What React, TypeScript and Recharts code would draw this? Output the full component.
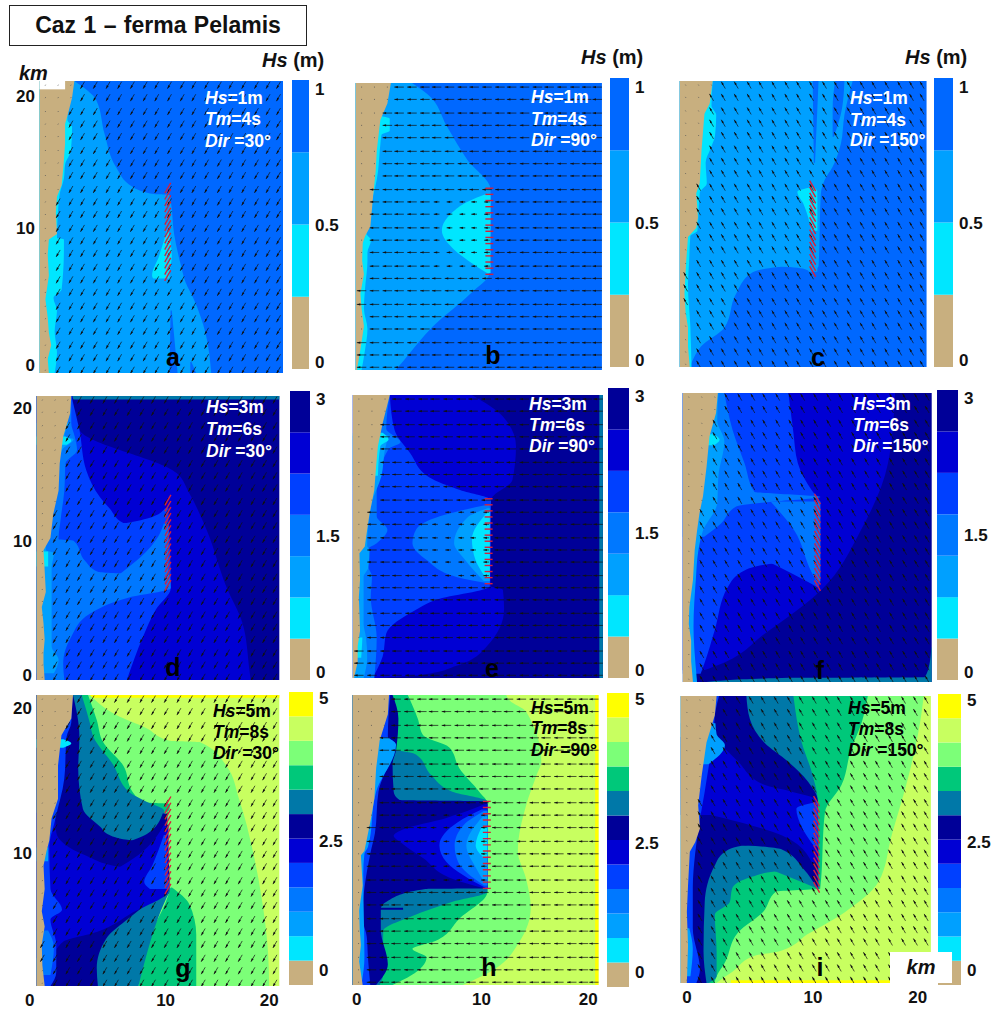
import React from 'react'
import { ComposedChart, BarChart, Area, Bar, Scatter, XAxis, YAxis } from 'recharts'

// [y km, from x km, to x km]
type Row = [number, number, number]
type Band = [number, Row[]]

const levelColors = [
  '#C8AF7F', '#00E6FF', '#00A0FF', '#0078FF', '#0040FF', '#0000D4', '#000098',
  '#0078A8', '#00C87A', '#7CFF78', '#C8FF60', '#FFFF00', '#0068FF', '#FFFFFF',
]

const arrowXs = [0.5, 1.6, 2.7, 3.7, 4.8, 5.9, 6.9, 8, 9.1, 10.1, 11.2, 12.3, 13.3, 14.4, 15.5, 16.5, 17.6, 18.7, 19.7, 20.6]
const arrowYs = [0.2, 1.1, 2, 3, 3.9, 4.8, 5.8, 6.7, 7.6, 8.6, 9.5, 10.4, 11.4, 12.3, 13.2, 14.2, 15.1, 16, 17, 17.9, 18.8, 19.8, 20.7]
const farmYs = [7, 7.45, 7.9, 8.35, 8.8, 9.25, 9.7, 10.15, 10.6, 11.05, 11.5, 11.95, 12.4, 12.85, 13.3]

const coastA = [[0, 0.8], [1, 0.7], [2, 1], [2.9, 0.8], [4, 0.7], [5.3, 0.5], [7, 0.8], [8.5, 0.7], [9.6, 0.8], [10, 1.5], [11.5, 1.4], [12.7, 1.5], [13.5, 1.9], [14.8, 2.05], [16.5, 2.2], [17.9, 2.2], [18.8, 2.5], [19.8, 2.8], [21, 3]]
const coastB = [[0, 0.1], [1.5, 0.4], [3.2, 0.7], [4.5, 0.5], [5.6, 0.4], [7, 0.7], [8, 0.55], [9.3, 0.6], [9.8, 0.8], [10.5, 1.25], [12.9, 1.5], [14.5, 1.7], [16.1, 1.8], [18.3, 2.1], [19.5, 2.7], [21, 3]]
const coastC = [[0, 0.85], [1.5, 0.7], [2.9, 0.7], [4, 0.5], [5.4, 0.4], [7.8, 0.55], [9.55, 0.7], [10.2, 1.4], [11, 1.55], [12.75, 1.4], [13.5, 1.7], [15.9, 1.85], [18.6, 2.1], [19.35, 2.55], [21, 2.8]]
const coastD = [[0, 0.7], [1.2, 0.6], [2, 0.6], [3, 0.7], [4.2, 0.6], [5.4, 0.45], [6.5, 0.8], [8.1, 0.7], [9.6, 0.6], [10.5, 1.2], [12.3, 1.45], [14, 1.9], [16, 2], [18, 2.3], [19.7, 2.9], [21, 3]]
const coastE = [[0, 0.1], [1.2, 0.4], [2.35, 0.4], [3.5, 0.6], [4.8, 0.55], [6, 0.5], [7.3, 0.6], [9.25, 0.55], [9.75, 1], [11, 1.2], [12.2, 1.4], [13.95, 1.8], [15.7, 1.95], [17.2, 2.1], [18.9, 2.5], [21, 3.1]]
const coastF = [[0, 0.85], [1.5, 0.7], [3, 0.7], [4.2, 0.5], [5.45, 0.55], [7.4, 0.85], [9.6, 1], [11, 1.2], [12.25, 1.4], [13.5, 1.7], [15.65, 2], [17.85, 2.25], [19.55, 2.8], [21, 2.95]]
const coastG = [[0, 0.7], [1.5, 0.5], [3, 0.45], [4.3, 0.7], [5.4, 0.45], [7, 0.7], [8.7, 0.6], [9.7, 0.85], [10.5, 1.1], [12.1, 1.3], [13.5, 1.85], [15.9, 1.85], [18.1, 2.15], [19.3, 3], [21, 3.15]]
const coastH = [[0, 0.85], [1.7, 0.55], [2.9, 0.7], [4, 0.6], [5.4, 0.55], [7.2, 0.85], [9.4, 0.7], [9.7, 1], [12, 1.55], [13.5, 1.85], [15.7, 2], [17.7, 2.3], [19.6, 3], [21, 3.1]]
const coastI = [[0, 0.5], [2.75, 0.6], [5.2, 0.5], [7.15, 0.6], [9.6, 0.75], [10.3, 1.2], [11.3, 1.6], [13, 1.45], [15.2, 1.75], [17.6, 2.15], [19.6, 2.85], [21, 3]]

const bandsA: Band[] = [
  [2, [[0, 0, 21], [21, 0, 21]]],
  [12, [[0, 14.8, 21], [2.9, 14.3, 21], [5.3, 13.3, 21], [6.5, 12.6, 21], [7.7, 12.2, 21], [10, 11.6, 21], [12.4, 11.3, 21], [12.8, 11.2, 21], [12.85, 10, 21], [13.4, 8, 21], [14.8, 6.6, 21], [17.2, 5.6, 21], [19.6, 4.9, 21], [21, 3, 21]]],
  [12, [[0, 11.2, 11.9], [4.5, 11.3, 11.4]]],
  [12, [[0, 13, 13.5], [0.8, 13, 13.1]]],
  [1, [[6.8, 9.8, 11.2], [7, 9.7, 11.2], [8.4, 10.3, 11.4], [10.3, 11, 11.1]]],
  [1, [[0, 0, 1.3], [1.5, 0, 1.5], [3, 0, 1.3], [4.5, 0, 1.5], [5.4, 0, 1.2], [6, 0, 1.9], [9, 0, 2.1], [9.6, 0, 2.1], [9.7, 0, 1.5], [12.7, 0, 1.7], [14, 0, 2.1], [15, 0, 2.2], [16, 0, 2.7], [17.7, 0, 2.8], [18.2, 0, 2.4], [21, 0, 2.4]]],
  [13, [[20.4, 0, 2.2], [21, 0, 2.2]]],
]

const bandsB: Band[] = [
  [12, [[0, 0, 21], [21, 0, 21]]],
  [2, [[0, 0, 3.4], [0.7, 0, 4.1], [3.2, 0, 6.6], [5.6, 0, 9.8], [7.1, 0, 11.4], [13.2, 0, 11.5], [15.4, 0, 9.5], [17.8, 0, 7.8], [20.2, 0, 6.1], [21, 0, 4.8]]],
  [1, [[7.1, 11.2, 11.5], [8, 9.6, 11.5], [8.8, 8.4, 11.5], [10.2, 7.35, 11.5], [11.5, 8.2, 11.5], [12.3, 9.5, 11.5], [12.9, 11.2, 11.5]]],
  [1, [[0, 0, 0.5], [1.5, 0, 0.8], [3, 0, 1], [4.5, 0, 0.7], [6, 0, 0.8], [8, 0, 1], [8.6, 0, 1], [9.5, 0, 1.3], [10, 0, 0.9], [14.5, 0, 1.9], [16.5, 0, 2.1], [17.2, 0, 2.2], [17.5, 0, 2.9], [18.4, 0, 2.9], [18.6, 0, 2.2], [21, 0, 2.9]]],
]

const bandsC: Band[] = [
  [12, [[0, 0, 21], [21, 0, 21]]],
  [2, [[0, 0, 0.85], [0.5, 0, 1.1], [1.5, 0, 1.8], [2.9, 0, 3.8], [5.4, 0, 4.8], [6.9, 0, 6.1], [7.35, 0, 8.4], [7.4, 0, 11.8], [12.75, 0, 12], [13.7, 0, 12.3], [14.7, 0, 13], [16.4, 0, 13.7], [18.5, 0, 14], [21, 0, 14.7]]],
  [2, [[7, 11, 11.7], [7.2, 10.6, 11.7], [7.42, 8.3, 11.8]]],
  [12, [[15, 11.4, 11.5], [21, 11.3, 11.8]]],
  [12, [[16.9, 13, 13.1], [19, 13, 13.8], [21, 13.2, 14]]],
  [1, [[10, 11.2, 11.7], [12, 10.5, 11.7], [12.87, 10, 11.7], [13.2, 11.2, 11.4]]],
  [1, [[0, 0, 1], [3, 0, 0.9], [6, 0, 0.7], [7.8, 0, 0.8], [9.6, 0, 0.9], [10, 0, 1.5], [12.8, 0, 1.7], [13.5, 0, 2.3], [15, 0, 2.2], [16, 0, 2.6], [17, 0, 3], [18.5, 0, 3.1], [19.2, 0, 2.7], [21, 0, 2.8]]],
]

const bandsD: Band[] = [
  [6, [[0, 0, 21], [21, 0, 21]]],
  [7, [[20.75, 3.2, 21], [21, 3, 21]]],
  [5, [[0, 0, 18.5], [0.7, 0, 18.4], [4.2, 0, 17.8], [6.9, 0, 16.4], [11.1, 0, 14.7], [13.8, 0, 13.2], [15.3, 0, 12.1], [18.5, 0, 3.7], [21, 0, 3.1]]],
  [4, [[0, 0, 7.8], [3.2, 0, 9.2], [5.2, 0, 10.3], [6.8, 0, 11.6], [11.55, 0, 11.4], [11.6, 0, 7.5], [12.7, 0, 6.3], [13.5, 0, 5.5], [15.5, 0, 4.3], [18.5, 0, 3.7], [21, 0, 3]]],
  [4, [[11.53, 7.3, 11.4], [12, 9.8, 11.4], [12.7, 11.1, 11.4]]],
  [3, [[0, 0, 2.4], [1.2, 0, 2.3], [3.2, 0, 3], [4.9, 0, 4.6], [6.1, 0, 8], [6.8, 0, 11.6], [7.65, 0, 11.5], [8, 0, 5.3], [8.8, 0, 4.2], [10.3, 0, 3.2], [10.4, 0, 1.9], [12, 0, 2.1], [14, 0, 2.4], [16, 0, 2.5], [17, 0, 3.5], [18, 0, 3.3], [19, 0, 3], [21, 0, 3]]],
  [3, [[7.63, 6.9, 11.5], [8.05, 7.5, 11.4], [9.1, 9, 11.4], [10.6, 10.5, 11.4], [11.55, 11, 11.4]]],
  [2, [[0.5, 0, 1.5], [1.5, 0, 1.9], [2.5, 0, 1.3], [8.3, 0, 1.3], [9.4, 0, 1.5], [9.6, 0, 0.8], [17, 0, 2.2], [17.8, 0, 3.2], [18, 0, 2.4], [19, 0, 2.9]]],
  [1, [[17.4, 0, 2.6], [17.7, 0, 3], [18, 0, 2.5]]],
  [1, [[8.4, 0, 1], [9.5, 0, 1]]],
]

const bandsE: Band[] = [
  [6, [[0, 0, 21], [21, 0, 21]]],
  [7, [[0, 20.7, 21], [21, 20.7, 21]]],
  [5, [[0, 0, 2], [0.25, 0, 5.9], [0.9, 0, 8.7], [2.3, 0, 11.2], [5.1, 0, 12.7], [6.55, 0, 12.6], [6.8, 0, 11.6], [13.2, 0, 11.6], [14.7, 0, 13.4], [17.2, 0, 13.7], [19.4, 0, 12.6], [21, 0, 10]]],
  [4, [[0.1, 0, 1.7], [1.6, 0, 2.5], [3.3, 0, 2.8], [5.06, 0, 5.3], [5.8, 0, 7], [6.8, 0, 11.5], [13.2, 0, 11.6], [13.95, 0, 9], [14.9, 0, 6.4], [16.7, 0, 4.8], [18.4, 0, 3.5], [21, 0, 3.1]]],
  [3, [[7.05, 11.2, 11.5], [7.5, 8.7, 11.5], [8.75, 6.2, 11.5], [10, 5, 11.5], [11, 5.3, 11.5], [12, 7.3, 11.5], [12.85, 11.3, 11.5]]],
  [2, [[7.2, 11, 11.5], [8.8, 9.4, 11.5], [10, 8.5, 11.5], [11.9, 9.6, 11.5], [12.6, 11.3, 11.5]]],
  [1, [[7.4, 11.2, 11.5], [8.75, 10.3, 11.5], [10.3, 10, 11.5], [12.3, 11.3, 11.5]]],
  [3, [[0, 0, 1.8], [3, 0, 2], [6, 0, 1.5], [7.5, 0, 1.6], [8.5, 0, 1.2], [9.5, 0, 1.2], [10, 0, 2], [11, 0, 2.9], [12, 0, 2], [14, 0, 2], [17, 0, 3], [17.5, 0, 4], [18.5, 0, 2.8], [21, 0, 3.1]]],
  [2, [[0, 0, 0.9], [1.5, 0, 1.2], [3, 0, 1.1], [4, 0, 0.9], [7.5, 0, 0.9], [8.2, 0, 1.3], [9.5, 0, 1.4], [9.8, 0, 1.2], [13, 0, 1.6], [15, 0, 2.4], [17, 0, 2.7], [18, 0, 3]]],
  [1, [[1.5, 0, 0.7], [3, 0, 0.8]]],
  [1, [[15, 0, 2.1], [17.2, 0, 2.3], [17.7, 0, 3], [18.2, 0, 2.5]]],
]

const bandsF: Band[] = [
  [6, [[0, 0, 21], [21, 0, 21]]],
  [5, [[0.85, 0, 1.8], [1.3, 0, 3.2], [3.5, 0, 6.9], [6.7, 0, 11.7], [11, 0, 15], [15.9, 0, 17.3], [21, 0, 17.9]]],
  [4, [[0.6, 0, 1.5], [1.3, 0, 1.8], [3.8, 0, 2.7], [6.9, 0, 3.8], [8.1, 0, 5.2], [8.6, 0, 7.5], [8.65, 0, 11.5], [13.2, 0, 11.5], [13.9, 0, 10.9], [15.9, 0, 9.7], [18.3, 0, 9.3], [21, 0, 8.9]]],
  [4, [[6.9, 11.3, 11.5], [7.15, 10.8, 11.5], [8.67, 7.4, 11.5]]],
  [3, [[10.55, 0, 1.8], [11.5, 0, 3.2], [12.75, 0, 4.5], [13.1, 0, 7.5], [13.45, 0, 11.6], [13.7, 0, 7.7], [13.8, 0, 6.05], [15.9, 0, 5.2], [18.3, 0, 4.2], [21, 0, 3.5]]],
  [3, [[7.3, 11.3, 11.6], [7.9, 10.9, 11.6], [11, 9.4, 11.6], [13.12, 7.4, 11.6]]],
  [2, [[0, 0, 1.2], [1, 0, 1.1], [4, 0, 0.9], [7.5, 0, 1.1], [9.5, 0, 1.3], [11, 0, 1.7], [13, 0, 2.9], [15, 0, 3], [17.5, 0, 3.5], [19, 0, 2.9], [21, 0, 3]]],
  [1, [[17.2, 0, 2.6], [17.6, 0, 3.1], [18, 0, 2.6]]],
  [7, [[0, 2, 21], [0.3, 9, 21], [0.35, 20.4, 21], [1.3, 20.8, 21], [2.5, 20.95, 21]]],
]

const bandsG: Band[] = [
  [10, [[0, 0, 21], [21, 0, 21]]],
  [11, [[20.8, 3, 21], [21, 3, 21]]],
  [9, [[0, 0, 20.1], [2.5, 0, 20], [6.1, 0, 19.5], [9.7, 0, 18.7], [13.5, 0, 17.5], [15.9, 0, 16.4], [17.6, 0, 14.1], [17.7, 0, 11.5], [18.6, 0, 9.5], [19.55, 0, 6.9], [21, 0, 4.6]]],
  [8, [[12, 0, 5], [12.1, 0, 9.5], [12.8, 0, 11.5], [13.15, 0, 11.5], [13.25, 0, 9.5], [14, 0, 8.3], [15.9, 0, 7.5], [17.6, 0, 5.75], [19.2, 0, 5.2], [21, 0, 4.45]]],
  [8, [[0, 8.8, 13.8], [2.2, 9.2, 13.8], [3.7, 9.8, 13.8], [5.9, 11.1, 13.2], [7.1, 11.6, 11.7]]],
  [7, [[10.4, 0, 11.3], [12.7, 0, 11], [13.3, 0, 9.5], [14, 0, 8], [16, 0, 6.6], [18, 0, 4.9], [19, 0, 4.6], [21, 0, 3.9]]],
  [6, [[0, 0, 5.45], [1.3, 0, 5.35], [3.4, 0, 6.15], [4.9, 0, 8.15], [6.9, 0, 11.5], [10.45, 0, 11.3], [10.5, 0, 8.3], [10.9, 0, 6.3], [11.5, 0, 5.5], [12.8, 0, 4], [15.7, 0, 3.6], [18, 0, 3.7], [21, 0, 3.15]]],
  [6, [[10.43, 8, 11.3], [11, 9.6, 11.3], [12.45, 10.9, 11.3]]],
  [7, [[0, 5.3, 8.8], [1.3, 5.2, 9.2], [3.4, 6, 9.9], [4.9, 8, 10.5], [7.05, 11.5, 11.6]]],
  [5, [[2, 0, 1.4], [3.2, 0, 2.3], [3.9, 0, 5.2], [5.3, 0, 8.3], [6.9, 0, 11.4], [8.5, 0, 11.4], [8.6, 0, 7.2], [9.4, 0, 4.3], [11.1, 0, 1.7], [12.5, 0, 1.6]]],
  [5, [[8.48, 7, 11.4], [9.45, 8.8, 11.4], [11.6, 11, 11.4]]],
  [4, [[7, 9.8, 11.5], [7.5, 9.3, 11.4], [8.7, 10, 11.3], [10.9, 11, 11.2]]],
  [4, [[0, 0, 1.2], [1, 0, 1.7], [3, 0, 1.7], [4.8, 0, 1.2], [5.5, 0, 2.2], [7, 0, 1.2], [10, 0, 1.1], [12, 0, 1.6], [15, 0, 2.4], [18, 0, 2.6], [19, 0, 3], [21, 0, 3.1]]],
  [3, [[0.8, 0, 1.2], [2.8, 0, 1.5], [4, 0, 1]]],
  [2, [[9, 0, 1], [10, 0, 1]]],
  [1, [[17.2, 0, 2.3], [17.5, 0, 3], [17.8, 0, 2.3]]],
]

const bandsH: Band[] = [
  [10, [[0, 0, 21], [21, 0, 21]]],
  [11, [[0, 20.7, 21], [21, 20.7, 21]]],
  [9, [[0, 0, 9.4], [1.2, 0, 12.2], [3.1, 0, 14.2], [5.6, 0, 15.2], [7.7, 0, 14.8], [9.7, 0, 14.1], [13, 0, 14.8], [15.2, 0, 15.7], [16.2, 0, 16.1], [19.8, 0, 14.8], [20.6, 0, 13.4], [21, 0, 13.1]]],
  [8, [[0, 0, 3.4], [0.7, 0, 5], [2, 0, 6.3], [2.6, 0, 5.1], [3.2, 0, 7.1], [4.8, 0, 9.1], [6.75, 0, 11.5], [13.15, 0, 11.5], [14, 0, 10.8], [15.7, 0, 9.1], [17.2, 0, 8.25], [18.1, 0, 6], [19.3, 0, 5.55], [21, 0, 4.7]]],
  [7, [[0, 0, 2.3], [0.8, 0, 2.6], [3.9, 0, 2.6], [5, 0, 5.1], [6, 0, 8.4], [6.75, 0, 11.5], [13.3, 0, 11.5], [14, 0, 8.5], [15.2, 0, 6.7], [16.7, 0, 5.4], [17, 0, 3.7]]],
  [6, [[0, 0, 2], [1.5, 0, 3], [4, 0, 2.4], [5.5, 0, 2.4], [6.2, 0, 3.2], [6.95, 0, 6.2], [7, 0, 11.5], [13.3, 0, 11.5], [13.4, 0, 4], [14, 0, 3.5], [16, 0, 3.4], [17, 0, 3.7], [19.3, 0, 3.9], [21, 0, 3.4]]],
  [6, [[5.45, 2.3, 4.3], [5.6, 2.3, 4.3]]],
  [5, [[7, 11.2, 11.5], [7.7, 8.5, 11.5], [9.2, 6, 11.5], [10.2, 4.3, 11.5], [10.8, 3.5, 11.5], [11.3, 4.4, 11.5], [12.1, 8, 11.5], [13.1, 11.3, 11.5]]],
  [4, [[7, 11.4, 11.5], [8.9, 8, 11.5], [10.1, 7.4, 11.5], [11.8, 9, 11.5], [12.7, 11, 11.5]]],
  [3, [[7.2, 11.2, 11.5], [8.9, 9, 11.5], [10.1, 8.7, 11.5], [11.6, 9.5, 11.5], [12.6, 11.2, 11.5]]],
  [2, [[7.5, 11.2, 11.5], [8.5, 10.5, 11.5], [10.1, 9.7, 11.5], [12.2, 11.1, 11.5]]],
  [1, [[9.2, 11.2, 11.5], [10.1, 10.5, 11.5], [11.4, 11, 11.5]]],
  [4, [[0, 0, 1.5], [2, 0, 1.3], [3.5, 0, 1.2], [5, 0, 0.8], [7, 0, 1], [9.5, 0, 1.5], [11, 0, 1.9], [14, 0, 2.2], [17.5, 0, 3.6], [18, 0, 3], [21, 0, 3.2]]],
  [2, [[0.3, 0, 0.8], [2, 0, 1], [8, 0, 0.9], [9.5, 0, 1], [10, 0, 1.3], [14, 0, 2], [17.4, 0, 3.7], [17.9, 0, 3]]],
]

const bandsI: Band[] = [
  [10, [[0, 0, 21], [21, 0, 21]]],
  [11, [[0, 4.2, 21], [0.2, 4.2, 21]]],
  [9, [[0, 0, 3], [0.2, 0, 3.3], [0.8, 0, 4.3], [2, 0, 6.2], [2.3, 0, 8.2], [3.6, 0, 10.7], [5.2, 0, 13.8], [7.4, 0, 16.6], [10.8, 0, 17.7], [15.4, 0, 19.2], [19.1, 0, 20.1], [21, 0, 20.4]]],
  [8, [[0, 0, 2.8], [0.5, 0, 3], [1.5, 0, 3.7], [3.7, 0, 4.8], [5.2, 0, 6.9], [6.7, 0, 8], [6.9, 0, 11.7], [12.5, 0, 12.1], [14.5, 0, 13.5], [17.1, 0, 14.3], [19.1, 0, 15.2], [21, 0, 15.7]]],
  [7, [[0, 0, 2.3], [0.5, 0, 3], [2.3, 0, 3], [5, 0, 2.85], [5.9, 0, 4.1], [6.9, 0, 4.3], [7.75, 0, 5.9], [8.15, 0, 7.9], [8.2, 0, 11.6], [13.3, 0, 11.5], [15.4, 0, 11], [17.6, 0, 10.15], [21, 0, 9.45]]],
  [7, [[6.9, 11.5, 11.6], [7.3, 10.4, 11.6], [8.22, 7.8, 11.6]]],
  [6, [[0, 0, 2.15], [2.3, 0, 1.9], [5.9, 0, 2], [8.6, 0, 2.85], [9.6, 0, 3.7], [10.05, 0, 5.1], [10.1, 0, 11.5], [13.3, 0, 11.5], [14.7, 0, 10.7], [16.2, 0, 9], [17.6, 0, 7], [19.3, 0, 5.8], [21, 0, 5.5]]],
  [6, [[7, 11.4, 11.5], [8.35, 10.3, 11.5], [9.8, 8.4, 11.5], [10.12, 5, 11.5]]],
  [5, [[12.3, 0, 11.5], [13.4, 0, 11.4], [14, 0, 9.3], [14.5, 0, 7], [16.2, 0, 4.8], [17.6, 0, 3.3], [18, 0, 3]]],
  [5, [[8.85, 11, 11.5], [10.8, 8.5, 11.5], [11.8, 4.8, 11.5], [12.35, 2.3, 11.5]]],
  [4, [[10, 11.2, 11.5], [11.5, 10.1, 11.5], [12.75, 9.7, 11.5], [13.2, 11.2, 11.5]]],
  [4, [[0, 0, 1.3], [1, 0, 1.6], [4, 0, 1], [7, 0, 1], [9.5, 0, 1.2], [12, 0, 1.6], [14, 0, 2], [17, 0, 2.6], [18, 0, 2.9], [19, 0, 2.8], [21, 0, 3.2]]],
  [2, [[0.5, 0, 0.8], [2.5, 0, 1], [4, 0, 0.7]]],
  [2, [[16, 0, 2.3], [17.4, 0, 3.7], [18.2, 0, 3], [19, 0, 2.9]]],
]

// plot rectangle of the land and sea in each panel, in page pixels
const panels = [
  { id: 'a', bands: bandsA, coast: coastA, dir: 30, farmX: 11.05, left: 39.5, right: 283, top: 81, bottom: 373, hs: 'Hs=1m', tm: 'Tm=4s', txt: [205, 98, 119, 141], letter: [173, 357], light: true, yTicks: [0.6, 10.4, 19.9] },
  { id: 'b', bands: bandsB, coast: coastB, dir: 90, farmX: 11.4, left: 355.5, right: 601.7, top: 83, bottom: 370, hs: 'Hs=1m', tm: 'Tm=4s', txt: [531, 97, 119, 140], letter: [493, 355], light: true },
  { id: 'c', bands: bandsC, coast: coastC, dir: 150, farmX: 11.3, left: 680, right: 927, top: 81, bottom: 367, hs: 'Hs=1m', tm: 'Tm=4s', txt: [850, 98, 120, 140], letter: [818, 357], light: true },
  { id: 'd', bands: bandsD, coast: coastD, dir: 30, farmX: 11.35, left: 37, right: 280, top: 396, bottom: 680, hs: 'Hs=3m', tm: 'Tm=6s', txt: [206, 407, 429, 451], letter: [173, 667], light: true, yTicks: [0.37, 10.3, 20.1] },
  { id: 'e', bands: bandsE, coast: coastE, dir: 90, farmX: 11.4, left: 353, right: 603, top: 395, bottom: 678, hs: 'Hs=3m', tm: 'Tm=6s', txt: [529, 404, 425, 446], letter: [492, 668], light: true },
  { id: 'f', bands: bandsF, coast: coastF, dir: 150, farmX: 11.35, left: 683, right: 932, top: 393, bottom: 682, hs: 'Hs=3m', tm: 'Tm=6s', txt: [853, 404, 425, 446], letter: [820, 670], light: true },
  { id: 'g', bands: bandsG, coast: coastG, dir: 30, farmX: 11.35, left: 37, right: 280, top: 695, bottom: 986, hs: 'Hs=5m', tm: 'Tm=8s', txt: [213, 711, 732, 753], letter: [183, 968], light: false, yTicks: [9.6, 20.06], xTicks: [-0.6, 11.15, 20.1] },
  { id: 'h', bands: bandsH, coast: coastH, dir: 90, farmX: 11.45, left: 353, right: 599, top: 695, bottom: 985, hs: 'Hs=5m', tm: 'Tm=8s', txt: [531, 708, 728, 750], letter: [489, 967], light: false, xTicks: [0.34, 11, 20.1] },
  { id: 'i', bands: bandsI, coast: coastI, dir: 150, farmX: 11.4, left: 681, right: 931, top: 696, bottom: 983, hs: 'Hs=5m', tm: 'Tm=8s', txt: [848, 708, 729, 750], letter: [820, 967], light: false, xTicks: [0.5, 11.1, 19.9] },
]

const scaleLevels = [[0, 1, 2, 12], [0, 1, 2, 3, 4, 5, 6], [0, 1, 2, 3, 4, 5, 6, 7, 8, 9, 10, 11]]
const scaleMax = [1, 3, 5]
const scaleTicks = [[0.025, 0.5, 0.97], [0.08, 1.5, 2.92], [0.25, 2.45, 4.9]]
const scaleLabels = [['0', '0.5', '1'], ['0', '1.5', '3'], ['0', '2.5', '5']]
const scaleBoxes = [
  [292, 309, 80, 369], [610, 629, 78, 367], [934, 953, 78, 367],
  [290, 310, 391, 680], [608, 629, 388, 678], [937, 958, 390, 680],
  [289, 313, 692, 985], [607, 629, 693, 987], [938, 961, 694, 985],
]

const font = '"Liberation Sans", Arial, sans-serif'
const tickStyle = { fontFamily: font, fontWeight: 700, fontSize: 17, fill: '#111' }

function interpCoast(coast: number[][], y: number) {
  for (let i = 1; i < coast.length; i++) {
    if (y <= coast[i][0]) {
      const [y0, x0] = coast[i - 1]
      const [y1, x1] = coast[i]
      return x0 + ((x1 - x0) * (y - y0)) / (y1 - y0)
    }
  }
  return coast[coast.length - 1][1]
}

function makeArrow(dir: number, coast: number[][], farmX: number) {
  const a = (dir * Math.PI) / 180
  const ux = -Math.sin(a)
  const uy = Math.cos(a)
  return (p: any) => {
    const { x, y } = p.payload
    const onLand = x < interpCoast(coast, y)
    const inLee = dir === 90 && x < farmX && x > farmX - 5 && y > 7 && y < 13.2
    const len = onLand ? 1 : (dir === 90 ? 9.5 : 8) * (inLee ? 0.6 : 1)
    const x0 = p.cx - (ux * len) / 2
    const y0 = p.cy - (uy * len) / 2
    const x1 = p.cx + (ux * len) / 2
    const y1 = p.cy + (uy * len) / 2
    if (onLand) return <path d={`M${x0},${y0}L${x1},${y1}`} stroke="#555" strokeWidth={0.8} fill="none" />
    const hx = x1 - ux * 3.5
    const hy = y1 - uy * 3.5
    return (
      <g>
        <path d={`M${x0},${y0}L${x1},${y1}`} stroke="#111" strokeWidth={0.7} fill="none" />
        <path d={`M${x1},${y1}L${hx - uy * 1.1},${hy + ux * 1.1}L${hx + uy * 1.1},${hy - ux * 1.1}Z`} fill="#111" />
      </g>
    )
  }
}

function makeDevice(dir: number) {
  const a = (dir * Math.PI) / 180
  const half = dir === 90 ? 4 : 6
  const ux = -Math.sin(a) * half
  const uy = Math.cos(a) * half
  return (p: any) => (
    <path d={`M${p.cx - ux},${p.cy - uy}L${p.cx + ux},${p.cy + uy}`} stroke="#D8203A" strokeWidth={1.4} fill="none" />
  )
}

function Panel({ p }: { p: (typeof panels)[number] }) {
  const axisW = 30
  const axisH = 30
  const km = (p.right - p.left) / 21
  const plotW = p.right - p.left + km
  const plotH = p.bottom - p.top
  const arrowData = arrowYs.flatMap((y) => arrowXs.map((x) => ({ x, y })))
  const farmData = farmYs.map((y) => ({ x: p.farmX, y }))
  const landRows: Row[] = p.coast.map(([y, x]) => [y, 0, x])
  // white patches go on top of the land
  const bands: Band[] = [...p.bands.filter((b) => b[0] !== 13), [0, landRows], ...p.bands.filter((b) => b[0] === 13)]
  return (
    <div style={{ position: 'absolute', left: p.left - km - axisW, top: p.top }}>
      <ComposedChart
        layout="vertical"
        width={axisW + plotW}
        height={plotH + axisH}
        margin={{ top: 0, right: 0, bottom: 0, left: 0 }}
      >
        <XAxis
          type="number"
          dataKey="x"
          domain={[-1, 21]}
          allowDataOverflow
          ticks={(p as any).xTicks ?? []}
          tickFormatter={(v: number) => String(Math.round(v / 10) * 10)}
          height={axisH}
          interval={0}
          axisLine={false}
          tickLine={false}
          tickSize={0}
          tickMargin={8}
          tick={tickStyle}
        />
        <YAxis
          type="number"
          dataKey="y"
          reversed
          domain={[0, 21]}
          allowDataOverflow
          ticks={(p as any).yTicks ?? []}
          tickFormatter={(v: number) => String(Math.round(v / 10) * 10)}
          width={axisW}
          interval={0}
          axisLine={false}
          tickLine={false}
          tickSize={0}
          tickMargin={-7}
          tick={tickStyle}
        />
        {bands.map(([level, rows], i) => (
          <Area
            key={i}
            data={rows.map(([y, lo, hi]) => ({ y, band: [lo, hi] }))}
            dataKey="band"
            type={level === 0 || level === 13 ? 'linear' : 'monotone'}
            fill={levelColors[level]}
            fillOpacity={1}
            stroke="none"
            dot={false}
            activeDot={false}
            isAnimationActive={false}
          />
        ))}
        <Scatter data={arrowData} shape={makeArrow(p.dir, p.coast, p.farmX)} isAnimationActive={false} />
        <Scatter data={farmData} shape={makeDevice(p.dir)} isAnimationActive={false} />
      </ComposedChart>
    </div>
  )
}

function ColorScale({ index }: { index: number }) {
  const row = Math.floor(index / 3)
  const [x0, x1, y0, y1] = scaleBoxes[index]
  const levels = scaleLevels[row]
  const step = scaleMax[row] / levels.length
  const pad = 12
  const datum: Record<string, number | string> = { name: 'Hs' }
  levels.forEach((_, i) => {
    datum['s' + i] = step
  })
  return (
    <div style={{ position: 'absolute', left: x0, top: y0 - pad }}>
      <BarChart
        data={[datum]}
        width={x1 - x0 + 40}
        height={y1 - y0 + pad * 2}
        barCategoryGap={0}
        margin={{ top: pad, right: 0, bottom: pad, left: 0 }}
      >
        <XAxis dataKey="name" hide />
        <YAxis
          orientation="right"
          type="number"
          domain={[0, scaleMax[row]]}
          ticks={scaleTicks[row]}
          tickFormatter={(_: number, i: number) => scaleLabels[row][i]}
          width={40}
          interval={0}
          axisLine={false}
          tickLine={false}
          tickSize={0}
          tickMargin={6}
          tick={tickStyle}
        />
        {levels.map((level, i) => (
          <Bar key={i} dataKey={'s' + i} stackId="a" fill={levelColors[level]} isAnimationActive={false} />
        ))}
      </BarChart>
    </div>
  )
}

const place = (left: number, cy: number): React.CSSProperties => ({
  position: 'absolute',
  left,
  top: cy - 10,
  lineHeight: '20px',
  whiteSpace: 'nowrap',
  fontFamily: font,
  fontWeight: 700,
})

function Note({ p }: { p: (typeof panels)[number] }) {
  const color = p.light ? '#FFFFFF' : '#000000'
  const [x, y1, y2, y3] = p.txt
  const [name, value] = p.hs.split('=')
  const [tName, tValue] = p.tm.split('=')
  const size = 17.5
  return (
    <>
      <div style={{ ...place(x, y1), color, fontSize: size }}><i>{name}</i>={value}</div>
      <div style={{ ...place(x, y2), color, fontSize: size }}><i>{tName}</i>={tValue}</div>
      <div style={{ ...place(x, y3), color, fontSize: size }}><i>Dir</i> ={p.dir}°</div>
      <div style={{ ...place(p.letter[0] - 20, p.letter[1]), width: 40, textAlign: 'center', color: '#000', fontSize: 25 }}>{p.id}</div>
    </>
  )
}

export default function App() {
  return (
    <div style={{ position: 'absolute', left: 0, top: 0, width: 992, height: 1009, background: '#fff', overflow: 'hidden' }}>
      {panels.map((p) => <Panel key={p.id} p={p} />)}
      {scaleBoxes.map((_, i) => <ColorScale key={i} index={i} />)}
      {panels.map((p) => <Note key={p.id} p={p} />)}
      <div style={{ position: 'absolute', left: 9, top: 5, width: 296, height: 39, border: '1px solid #222', background: '#fff', textAlign: 'center', lineHeight: '39px', fontFamily: font, fontWeight: 700, fontSize: 23, wordSpacing: 1, color: '#111' }}>
        Caz 1 – ferma Pelamis
      </div>
      <div style={{ ...place(19, 73), fontSize: 20, color: '#111' }}><i>km</i></div>
      {[262, 581, 905].map((x) => (
        <div key={x} style={{ ...place(x, x === 262 ? 60 : 57), fontSize: 20, color: '#111' }}><i>Hs</i> (m)</div>
      ))}
      <div style={{ position: 'absolute', left: 890, top: 952, width: 62, height: 31, background: '#fff', lineHeight: '31px', textAlign: 'center', fontFamily: font, fontWeight: 700, fontStyle: 'italic', fontSize: 20, color: '#111' }}>
        km
      </div>
    </div>
  )
}
